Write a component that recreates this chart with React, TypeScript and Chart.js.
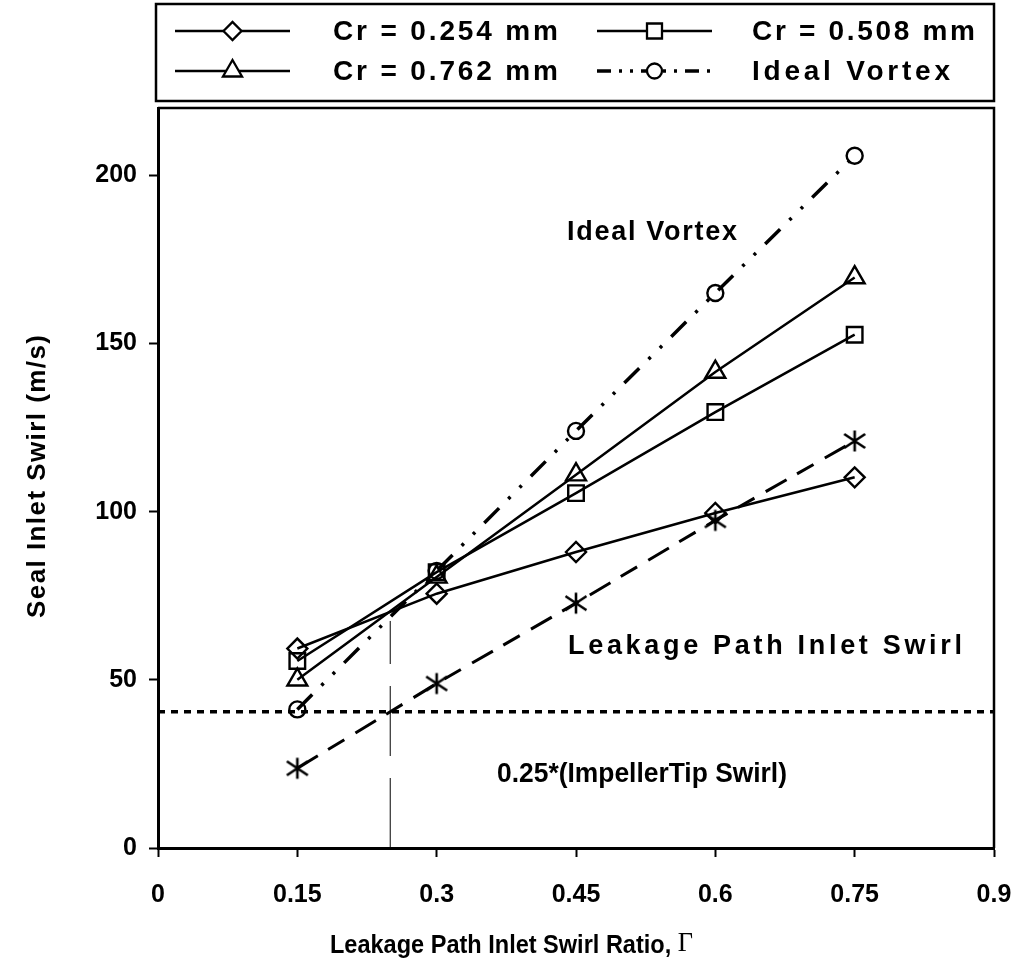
import React, { useEffect, useRef } from 'react';
import { Chart, registerables } from 'chart.js';

Chart.register(...registerables);

// ---- data ----
const gammaValues = [0.15, 0.3, 0.45, 0.6, 0.75];
const cr254 = [59.3, 75.6, 88.0, 99.6, 110.2];
const cr508 = [55.6, 82.0, 105.5, 129.6, 152.6];
const cr762 = [50.0, 80.6, 111.0, 141.5, 169.6];
const idealVortex = [41.2, 82.4, 124.0, 165.0, 205.8];
const leakageSwirl = [23.7, 48.9, 72.8, 97.4, 121.0];
const impellerRefLevel = 40.5; // 0.25*(Impeller Tip Swirl)
const refGamma = 0.25;
const refGammaTop = 67.5;
const xTicks = [0, 0.15, 0.3, 0.45, 0.6, 0.75, 0.9];
const xTickLabels = ['0', '0.15', '0.3', '0.45', '0.6', '0.75', '0.9'];
const yTicks = [0, 50, 100, 150, 200];
const yTickLabels = ['0', '50', '100', '150', '200'];
const legendLabels = ['Cr = 0.254 mm', 'Cr = 0.508 mm', 'Cr = 0.762 mm', 'Ideal Vortex'];
const yTitle = 'Seal Inlet Swirl (m/s)';
const xTitle = 'Leakage Path Inlet Swirl Ratio, ';
const xTitleSymbol = 'Γ';
const noteIdeal = 'Ideal Vortex';
const noteLeak = 'Leakage Path Inlet Swirl';
const noteImpeller = '0.25*(ImpellerTip Swirl)';

const FONT = '"Liberation Sans", Arial, sans-serif';
const BLACK = '#000';

const idealDash = [21, 13, 3, 13, 3, 13];
const leakDash = [24, 12, 19, 13];

function makeAsterisk(): HTMLCanvasElement {
  const c = document.createElement('canvas');
  c.width = 26;
  c.height = 26;
  const g = c.getContext('2d')!;
  g.strokeStyle = BLACK;
  g.lineWidth = 2.6;
  g.beginPath();
  g.moveTo(13, 2.5);
  g.lineTo(13, 23.5);
  g.moveTo(2.5, 6);
  g.lineTo(23.5, 20);
  g.moveTo(23.5, 6);
  g.lineTo(2.5, 20);
  g.stroke();
  return c;
}

function pts(ys: number[]) {
  return gammaValues.map((x, i) => ({ x, y: ys[i] }));
}

function drawMarker(ctx: CanvasRenderingContext2D, kind: string, x: number, y: number) {
  ctx.save();
  ctx.setLineDash([]);
  ctx.lineWidth = 2.3;
  ctx.strokeStyle = BLACK;
  ctx.beginPath();
  if (kind === 'diamond') {
    const r = 9;
    ctx.moveTo(x - r, y);
    ctx.lineTo(x, y - r);
    ctx.lineTo(x + r, y);
    ctx.lineTo(x, y + r);
    ctx.closePath();
  } else if (kind === 'square') {
    const s = 7.5;
    ctx.rect(x - s, y - s, 2 * s, 2 * s);
  } else if (kind === 'triangle') {
    const r = 11;
    ctx.moveTo(x, y - r);
    ctx.lineTo(x + r * 0.866, y + r * 0.5);
    ctx.lineTo(x - r * 0.866, y + r * 0.5);
    ctx.closePath();
  } else {
    ctx.arc(x, y, 7.5, 0, Math.PI * 2);
  }
  ctx.fillStyle = '#fff';
  ctx.fill();
  ctx.stroke();
  ctx.restore();
}

// draw text so that it spans from x0 to x1 (letter-spaced or slightly compressed)
function fitText(ctx: CanvasRenderingContext2D, text: string, x0: number, x1: number, y: number) {
  (ctx as any).letterSpacing = '0px';
  const w = ctx.measureText(text).width;
  const target = x1 - x0;
  if (w > target) {
    ctx.save();
    ctx.translate(x0, y);
    ctx.scale(target / w, 1);
    ctx.fillText(text, 0, 0);
    ctx.restore();
    return;
  }
  const sp = (target - w) / Math.max(1, text.length - 1);
  (ctx as any).letterSpacing = `${sp}px`;
  ctx.fillText(text, x0, y);
  (ctx as any).letterSpacing = '0px';
}

const decorPlugin = {
  id: 'decor',
  afterDraw(chart: any) {
    const { ctx, chartArea } = chart;
    const { left, right, top, bottom } = chartArea;
    ctx.save();
    // top & right frame
    ctx.strokeStyle = BLACK;
    ctx.lineWidth = 2.5;
    ctx.setLineDash([]);
    ctx.beginPath();
    ctx.moveTo(left, top);
    ctx.lineTo(right, top);
    ctx.lineTo(right, bottom);
    ctx.stroke();

    // legend box
    ctx.strokeRect(156, 4, right - 156, 97);
    const rows = [31, 71];
    const cols = [
      { x0: 175, x1: 290, tx: 333, tx1: 558 },
      { x0: 597, x1: 712, tx: 752, tx1: 975 },
    ];
    const kinds = ['diamond', 'square', 'triangle', 'circle'];
    ctx.font = `bold 28px ${FONT}`;
    ctx.fillStyle = BLACK;
    ctx.textBaseline = 'middle';
    ctx.textAlign = 'left';
    for (let i = 0; i < 4; i++) {
      const col = cols[i % 2];
      const y = rows[Math.floor(i / 2)];
      ctx.save();
      ctx.lineWidth = i === 3 ? 3.5 : 2.5;
      ctx.setLineDash(i === 3 ? [14, 8, 3, 8, 3, 8] : []);
      ctx.beginPath();
      ctx.moveTo(col.x0, y);
      ctx.lineTo(col.x1, y);
      ctx.stroke();
      ctx.restore();
      drawMarker(ctx, kinds[i], (col.x0 + col.x1) / 2, y);
      fitText(ctx, legendLabels[i], col.tx, i === 3 ? 950 : col.tx1, y + 1);
    }

    // y axis title
    ctx.font = `bold 26px ${FONT}`;
    ctx.save();
    ctx.translate(38, 0);
    ctx.rotate(-Math.PI / 2);
    ctx.textAlign = 'left';
    ctx.textBaseline = 'middle';
    fitText(ctx, yTitle, -618, -335, 0);
    ctx.restore();

    // x axis title
    ctx.textAlign = 'left';
    ctx.textBaseline = 'middle';
    ctx.font = `bold 25px ${FONT}`;
    const w1 = ctx.measureText(xTitle).width;
    ctx.font = `28px "Liberation Serif", "DejaVu Serif", serif`;
    const w2 = ctx.measureText(xTitleSymbol).width;
    const total = 693 - 330;
    const s = Math.min(1, total / (w1 + w2));
    ctx.save();
    ctx.translate(330, 946);
    ctx.scale(s, 1);
    ctx.font = `bold 25px ${FONT}`;
    ctx.fillText(xTitle, 0, 0);
    ctx.font = `28px "Liberation Serif", "DejaVu Serif", serif`;
    ctx.fillText(xTitleSymbol, w1, -2);
    ctx.restore();

    // annotations
    ctx.font = `bold 27px ${FONT}`;
    fitText(ctx, noteIdeal, 567, 737, 233);
    fitText(ctx, noteLeak, 568, 962, 647);
    fitText(ctx, noteImpeller, 497, 787, 775);
    ctx.restore();
  },
};

export default function App() {
  const ref = useRef<HTMLCanvasElement | null>(null);
  useEffect(() => {
    document.body.style.margin = '0';
    const asterisk = makeAsterisk();
    const base = {
      borderColor: BLACK,
      pointBorderColor: BLACK,
      pointBackgroundColor: 'rgba(0,0,0,0)',
      pointBorderWidth: 2.4,
      fill: false,
      tension: 0,
    };
    const chart = new Chart(ref.current!, {
      type: 'line',
      data: {
        datasets: [
          {
            ...base,
            label: 'ref-h',
            data: [{ x: 0, y: impellerRefLevel }, { x: 0.9, y: impellerRefLevel }],
            borderWidth: 3.5,
            borderDash: [7, 6],
            pointRadius: 0,
          },
          {
            ...base,
            label: 'ref-v',
            data: [{ x: refGamma, y: 0 }, { x: refGamma, y: refGammaTop }],
            borderWidth: 1,
            borderDash: [70, 22],
            pointRadius: 0,
          },
          {
            ...base,
            label: 'Leakage Path Inlet Swirl',
            data: pts(leakageSwirl),
            borderWidth: 3,
            borderDash: leakDash,
            pointStyle: asterisk as any,
            pointRadius: 10,
          },
          {
            ...base,
            label: legendLabels[3],
            data: pts(idealVortex),
            borderWidth: 3.5,
            borderDash: idealDash,
            pointStyle: 'circle',
            pointRadius: 8,
          },
          {
            ...base,
            label: legendLabels[0],
            data: pts(cr254),
            borderWidth: 2.5,
            pointStyle: 'rectRot',
            pointRadius: 10,
          },
          {
            ...base,
            label: legendLabels[1],
            data: pts(cr508),
            borderWidth: 2.5,
            pointStyle: 'rect',
            pointRadius: 11,
          },
          {
            ...base,
            label: legendLabels[2],
            data: pts(cr762),
            borderWidth: 2.5,
            pointStyle: 'triangle',
            pointRadius: 11.5,
          },
        ],
      },
      options: {
        animation: false,
        responsive: true,
        maintainAspectRatio: false,
        layout: { padding: { left: 0, right: 30, top: 108, bottom: 0 } },
        plugins: { legend: { display: false }, tooltip: { enabled: false } },
        scales: {
          x: {
            type: 'linear',
            min: 0,
            max: 0.9,
            afterBuildTicks: (s: any) => {
              s.ticks = xTicks.map((v) => ({ value: v }));
            },
            afterFit: (s: any) => {
              s.height = 131;
              s.paddingLeft = 0;
              s.paddingRight = 0;
            },
            grid: {
              display: true,
              drawOnChartArea: false,
              drawTicks: true,
              tickLength: 9,
              tickWidth: 2,
              tickColor: BLACK,
            },
            border: { display: true, color: BLACK, width: 3 },
            ticks: {
              color: BLACK,
              padding: 23,
              maxRotation: 0,
              autoSkip: false,
              callback: (_v: any, i: number) => xTickLabels[i],
              font: { family: FONT, size: 25, weight: 'bold' },
            },
          },
          y: {
            type: 'linear',
            min: 0,
            max: 220,
            afterBuildTicks: (s: any) => {
              s.ticks = yTicks.map((v) => ({ value: v }));
            },
            afterFit: (s: any) => {
              s.width = 158;
              s.paddingTop = 0;
              s.paddingBottom = 0;
            },
            grid: {
              display: true,
              drawOnChartArea: false,
              drawTicks: true,
              tickLength: 9,
              tickWidth: 2,
              tickColor: BLACK,
            },
            border: { display: true, color: BLACK, width: 3 },
            ticks: {
              color: BLACK,
              padding: 12,
              autoSkip: false,
              callback: (_v: any, i: number) => yTickLabels[i],
              font: { family: FONT, size: 25, weight: 'bold' },
            },
          },
        },
      },
      plugins: [decorPlugin],
    });
    return () => chart.destroy();
  }, []);
  return (
    <div style={{ position: 'fixed', left: 0, top: 0, width: 1024, height: 979, background: '#fff' }}>
      <canvas ref={ref} />
    </div>
  );
}
